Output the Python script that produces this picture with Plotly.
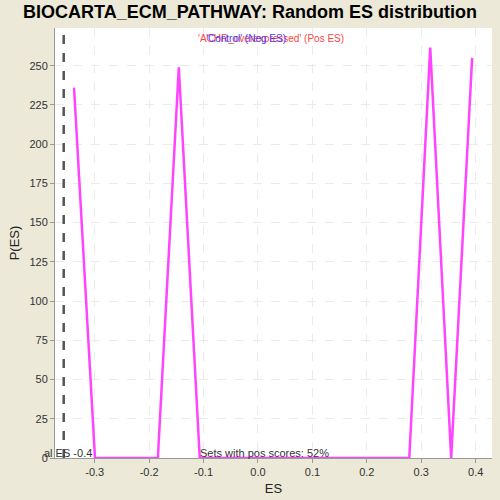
import plotly.graph_objects as go

es_values = [-0.338, -0.2995, -0.261, -0.2225, -0.184, -0.1455, -0.107, -0.0685, -0.03,
             0.0085, 0.047, 0.0855, 0.124, 0.1625, 0.201, 0.2395, 0.278, 0.3165, 0.355, 0.3935]
p_values = [236, 0, 0, 0, 0, 249, 0, 0, 0,
            0, 0, 0, 0, 0, 0, 0, 0, 261.5, 0, 255]
actual_es = -0.357
x_ticks = [-0.3, -0.2, -0.1, 0.0, 0.1, 0.2, 0.3, 0.4]
x_tick_labels = ["-0.3", "-0.2", "-0.1", "0.0", "0.1", "0.2", "0.3", "0.4"]
y_ticks = [0, 25, 50, 75, 100, 125, 150, 175, 200, 225, 250]

FONT = "Liberation Sans, Arial"

fig = go.Figure()
fig.add_trace(go.Scatter(x=es_values, y=p_values, mode="lines",
                         line=dict(color="#FF44FF", width=2.5), showlegend=False))
fig.add_shape(type="line", x0=actual_es, x1=actual_es, y0=0, y1=1, yref="paper",
              line=dict(color="#555555", width=2.5, dash="dash"))

fig.add_annotation(x=-0.3, y=0, yref="y", text="al ES -0.4", showarrow=False,
                   xanchor="right", yanchor="bottom", xshift=-1, yshift=-3,
                   font=dict(size=11, color="#333333", family=FONT))
fig.add_annotation(x=0.5, xref="paper", y=0, yref="y", text="Sets with pos scores: 52%",
                   showarrow=False, xanchor="center", yanchor="bottom", xshift=-9, yshift=-3,
                   font=dict(size=11, color="#333333", family=FONT))
fig.add_annotation(x=0.5, xref="paper", y=1, yref="paper",
                   text="'ACHR_overexpressed' (Pos ES)", showarrow=False,
                   xanchor="center", yanchor="top", xshift=-3, yshift=-3,
                   font=dict(size=10, color="#FF4444", family=FONT))
fig.add_annotation(x=0.5, xref="paper", y=1, yref="paper",
                   text="'Control' (Neg ES)", showarrow=False,
                   xanchor="center", yanchor="top", xshift=-28, yshift=-3,
                   font=dict(size=10, color="#4444FF", family=FONT))

fig.update_layout(
    width=500, height=500,
    paper_bgcolor="#ECE9D8", plot_bgcolor="white",
    margin=dict(l=55, r=8, t=28, b=42, autoexpand=False),
    title=dict(text="<b>BIOCARTA_ECM_PATHWAY: Random ES distribution</b>",
               x=0.5, xanchor="center", y=0.99, yanchor="top",
               font=dict(size=18, color="black", family=FONT)),
    font=dict(family=FONT, size=11, color="#333333"),
)
fig.update_xaxes(range=[-0.373, 0.430], tickvals=x_ticks, ticktext=x_tick_labels,
                 automargin=False,
                 showgrid=True, gridcolor="#EBEBEB", griddash="dash", zeroline=False,
                 showline=True, linecolor="#999999", ticks="outside", ticklen=4,
                 tickcolor="#999999",
                 title=dict(text="ES", font=dict(size=13, color="#222222"), standoff=6))
fig.update_yaxes(range=[0, 274], tickvals=y_ticks, automargin=False,
                 showgrid=True, gridcolor="#EBEBEB", griddash="dash", zeroline=False,
                 showline=True, linecolor="#999999", ticks="outside", ticklen=4,
                 tickcolor="#999999",
                 title=dict(text="P(ES)", font=dict(size=13, color="#222222"), standoff=6))

fig.write_html("out.html", config={"displayModeBar": False},
               post_script="document.body.style.margin='0px';"
                           "document.body.style.background='#ECE9D8';")
